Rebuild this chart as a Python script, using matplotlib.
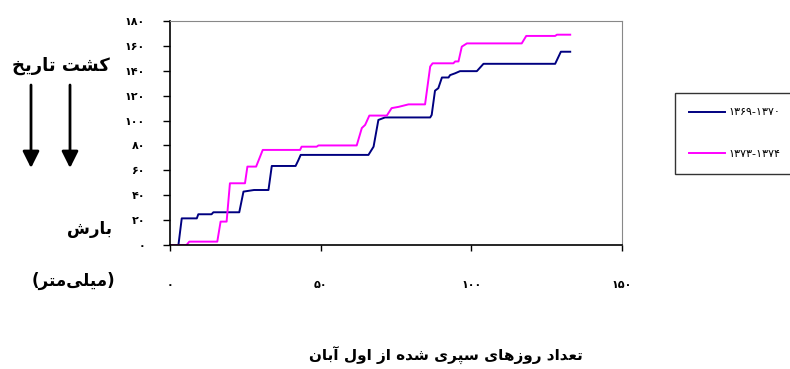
import matplotlib
matplotlib.use("Agg")
from matplotlib import pyplot as plt
from matplotlib.ticker import FuncFormatter

plt.rcParams["font.family"] = ["DejaVu Sans"]

# days since 1 Aban vs cumulative rainfall (mm)
blue_days = [0, 2.8, 3.9, 8.9, 9.4, 13.8, 14.4, 23.0, 24.4, 27.9, 32.7, 33.8, 41.7, 42.6, 43.4,
             65.9, 67.6, 69.2, 71.4, 86.4, 86.9, 88.0, 89.1, 90.3, 92.5, 93.0, 94.7, 96.3,
             101.9, 104.1, 127.9, 129.8, 132.9]
blue_vals = [0, 0, 21.4, 21.4, 24.7, 24.7, 26.3, 26.3, 42.9, 44.2, 44.2, 63.5, 63.5, 68, 72.4,
             72.4, 79, 100.5, 102.5, 102.5, 104.5, 124, 126, 134.6, 134.6, 136.5, 138, 139.7,
             139.7, 145.6, 145.6, 155.3, 155.3]
mag_days = [0, 5.5, 6.4, 15.7, 16.8, 18.8, 19.9, 24.9, 25.7, 28.6, 30.8, 43.2, 43.7, 48.7, 49.3,
            62.0, 63.7, 64.8, 66.2, 72.0, 73.6, 75.9, 79.2, 84.7, 86.4, 87.2, 94.1, 94.7, 95.8,
            96.9, 98.6, 116.8, 118.3, 127.9, 128.5, 132.9]
mag_vals = [0, 0, 2.7, 2.7, 18.8, 18.8, 49.6, 49.6, 63, 63, 76.4, 76.4, 79, 79, 80,
            80, 94, 96.5, 104, 104, 110, 111, 113, 113, 143.4, 146, 146, 147.5, 147.5,
            159.4, 162, 162, 168, 168, 169, 169]
series_labels = ["۱۳۶۹-۱۳۷۰", "۱۳۷۳-۱۳۷۴"]
x_ticks = [0, 50, 100, 150]
y_ticks = [0, 20, 40, 60, 80, 100, 120, 140, 160, 180]

# minimal arabic/persian shaping (matplotlib has no text shaping / bidi)
# iso, fin, ini, med  -- two entries = joins only to the right
FORMS = {
    "ا": ("\uFE8D", "\uFE8E"), "آ": ("\uFE81", "\uFE82"),
    "ب": ("\uFE8F", "\uFE90", "\uFE91", "\uFE92"), "پ": ("\uFB56", "\uFB57", "\uFB58", "\uFB59"),
    "ت": ("\uFE95", "\uFE96", "\uFE97", "\uFE98"), "خ": ("\uFEA5", "\uFEA6", "\uFEA7", "\uFEA8"),
    "د": ("\uFEA9", "\uFEAA"), "ر": ("\uFEAD", "\uFEAE"), "ز": ("\uFEAF", "\uFEB0"),
    "س": ("\uFEB1", "\uFEB2", "\uFEB3", "\uFEB4"), "ش": ("\uFEB5", "\uFEB6", "\uFEB7", "\uFEB8"),
    "ع": ("\uFEC9", "\uFECA", "\uFECB", "\uFECC"), "ک": ("\uFB8E", "\uFB8F", "\uFB90", "\uFB91"),
    "ل": ("\uFEDD", "\uFEDE", "\uFEDF", "\uFEE0"), "م": ("\uFEE1", "\uFEE2", "\uFEE3", "\uFEE4"),
    "ن": ("\uFEE5", "\uFEE6", "\uFEE7", "\uFEE8"), "و": ("\uFEED", "\uFEEE"),
    "ه": ("\uFEE9", "\uFEEA", "\uFEEB", "\uFEEC"), "ی": ("\uFBFC", "\uFBFD", "\uFBFE", "\uFBFF"),
}

def shape(word):
    out = []
    for i, c in enumerate(word):
        if c not in FORMS:
            out.append(c)
            continue
        prev = word[i - 1] if i > 0 else None
        nxt = word[i + 1] if i + 1 < len(word) else None
        jp = prev in FORMS and len(FORMS[prev]) == 4
        jn = nxt in FORMS and len(FORMS[c]) == 4
        f = FORMS[c]
        if jp and jn:
            out.append(f[3])
        elif jp:
            out.append(f[1])
        elif jn:
            out.append(f[2])
        else:
            out.append(f[0])
    return "".join(reversed(out))

def rtl(text):
    # logical order -> visual left-to-right string
    return " ".join(shape(w) for w in reversed(text.split()))

def fa_num(v, pos=None):
    return "".join(chr(0x06F0 + int(d)) for d in str(int(v)))

fig = plt.figure(figsize=(7.9, 3.69), dpi=100)
ax = fig.add_axes([170 / 790, 124 / 369, 451.7 / 790, 224 / 369])

ax.plot(blue_days, blue_vals, color="#000080", lw=1.4, label=series_labels[0])
ax.plot(mag_days, mag_vals, color="#FF00FF", lw=1.4, label=series_labels[1])

ax.set_xlim(0, 150)
ax.set_ylim(0, 180)
ax.set_xticks(x_ticks)
ax.set_yticks(y_ticks)
ax.xaxis.set_major_formatter(FuncFormatter(fa_num))
ax.yaxis.set_major_formatter(FuncFormatter(fa_num))
ax.tick_params(axis="x", direction="out", length=4, width=1, pad=21, labelsize=8)
ax.tick_params(axis="y", direction="out", length=5, width=1, pad=13, labelsize=8)
for lab in ax.get_xticklabels() + ax.get_yticklabels():
    lab.set_fontweight("bold")
ax.spines["top"].set_color("#888888")
ax.spines["right"].set_color("#888888")
ax.spines["left"].set_color("black")
ax.spines["bottom"].set_color("black")
ax.spines["left"].set_linewidth(1.2)
ax.spines["bottom"].set_linewidth(1.2)

leg = ax.legend(loc="upper left", bbox_to_anchor=(675 / 790, 1 - 93 / 369),
                bbox_transform=fig.transFigure, fontsize=8, frameon=True, fancybox=False,
                handlelength=3.2, handletextpad=0.35, labelspacing=2.85, borderpad=1.3,
                borderaxespad=0)
leg.get_frame().set_edgecolor("black")
leg.get_frame().set_linewidth(1)

# side annotations
fig.text(61 / 790, 1 - 66 / 369, rtl("کشت تاریخ"), ha="center", va="center",
         fontsize=13, fontweight="bold")
fig.text(89 / 790, 1 - 229 / 369, rtl("بارش"), ha="center", va="center",
         fontsize=12, fontweight="bold")
fig.text(73 / 790, 1 - 281 / 369, "(" + shape("متر") + shape("میلی") + ")", ha="center",
         va="center", fontsize=12, fontweight="bold")
fig.text(446 / 790, 1 - 356 / 369, rtl("تعداد روزهای سپری شده از اول آبان"), ha="center",
         va="center", fontsize=11, fontweight="bold")

for xa in [31, 70]:
    ax.annotate("", xy=(xa, 369 - 168), xytext=(xa, 369 - 85), xycoords="figure pixels",
                textcoords="figure pixels",
                arrowprops=dict(arrowstyle="-|>", color="black", lw=2, mutation_scale=25,
                                shrinkA=0, shrinkB=0))

fig.savefig("out.png", dpi=100)
